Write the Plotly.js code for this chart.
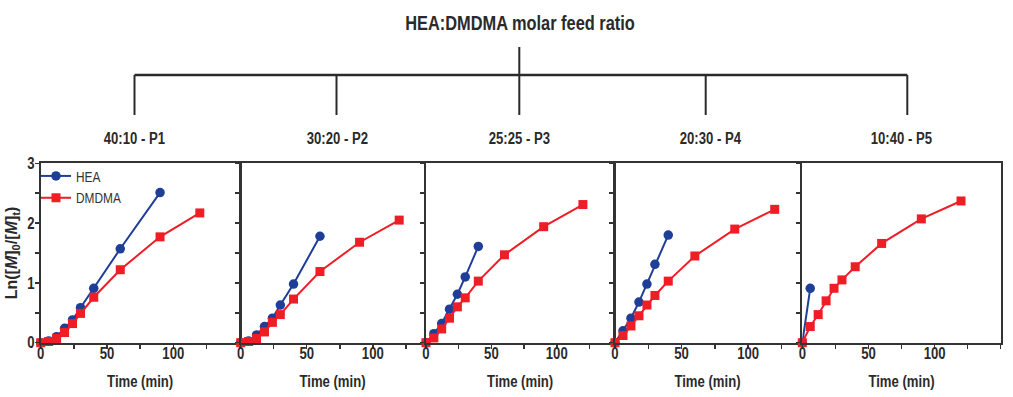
<!DOCTYPE html>
<html>
<head>
<meta charset="utf-8">
<script src="https://cdn.plot.ly/plotly-3.0.1.min.js"></script>
<style>html,body{margin:0;padding:0;background:#fff}#chart{width:1013px;height:397px}</style>
</head>
<body>
<div id="chart"></div>
<script>
// ---- data ----
const time = [0, 6, 12, 18, 24, 30, 40, 60, 90, 120];
const panelLabels = ["40:10 - P1", "30:20 - P2", "25:25 - P3", "20:30 - P4", "10:40 - P5"];
const seriesNames = ["HEA", "DMDMA"];
const heaP1 = [0, 0.03, 0.10, 0.24, 0.38, 0.585, 0.91, 1.57, 2.51];
const dmdmaP1 = [0, 0.02, 0.07, 0.17, 0.32, 0.49, 0.76, 1.22, 1.77, 2.17];
const heaP2 = [0, 0.03, 0.13, 0.27, 0.41, 0.63, 0.98, 1.78];
const dmdmaP2 = [0, 0.02, 0.07, 0.18, 0.34, 0.47, 0.73, 1.19, 1.68, 2.05];
const heaP3 = [0, 0.15, 0.32, 0.56, 0.81, 1.10, 1.61];
const dmdmaP3 = [0, 0.08, 0.23, 0.41, 0.60, 0.75, 1.03, 1.47, 1.94, 2.31];
const heaP4 = [0, 0.20, 0.41, 0.68, 0.98, 1.31, 1.80];
const dmdmaP4 = [0, 0.12, 0.28, 0.45, 0.63, 0.79, 1.03, 1.45, 1.90, 2.23];
const heaP5 = [0, 0.91];
const dmdmaP5 = [0, 0.27, 0.47, 0.70, 0.91, 1.05, 1.27, 1.66, 2.07, 2.37];
const heaData = [heaP1, heaP2, heaP3, heaP4, heaP5];
const dmdmaData = [dmdmaP1, dmdmaP2, dmdmaP3, dmdmaP4, dmdmaP5];
const xTicks = [0, 50, 100];
const xTicksLast = [0, 50, 100, 150];
const yTicks = [0, 1, 2, 3];

// ---- layout geometry (pixels) ----
const W = 1013, H = 397;
const FONT = "Liberation Sans, Arial, sans-serif";
const CONDENSE = 0.82;   // emulate a narrow (condensed) face
const BLUE = "#1f3e97", RED = "#ee1d26", INK = "#2a2a2a";
const panels = [
  {x0: 40.7, x1: 239.6, xmax: 150},
  {x0: 240.7, x1: 424.3, xmax: 139},
  {x0: 426, x1: 614.3, xmax: 144},
  {x0: 615, x1: 800, xmax: 139},
  {x0: 802.3, x1: 1000.7, xmax: 150}
];
const plotTop = 163.3, plotBot = 342.7;
const px = v => v / W, py = v => 1 - v / H;
const tickStyle = {ticks: "outside", ticklen: 4, tickwidth: 1.5, tickcolor: "#333", showgrid: false};

const traces = [];
const layout = {
  width: W, height: H,
  margin: {l: 0, r: 0, t: 0, b: 0},
  paper_bgcolor: "#fff", plot_bgcolor: "#fff",
  font: {family: FONT, color: INK},
  showlegend: true,
  legend: {x: px(36), y: py(160), xanchor: "left", yanchor: "top",
           bgcolor: "rgba(0,0,0,0)", font: {family: FONT, size: 14.5, color: "#333"},
           itemwidth: 30, tracegroupgap: 0},
  title: {text: "<b>HEA:DMDMA molar feed ratio</b>", x: px(520), xref: "paper", xanchor: "center",
          y: py(23), yref: "container", yanchor: "middle",
          font: {family: FONT, size: 20, color: INK}},
  shapes: [], annotations: []
};

panels.forEach((p, i) => {
  const n = i === 0 ? "" : String(i + 1);
  const xa = "x" + n, ya = "y" + n;
  traces.push({
    x: time.slice(0, heaData[i].length), y: heaData[i], xaxis: xa, yaxis: ya, name: seriesNames[0],
    type: "scatter", mode: "lines+markers", cliponaxis: false,
    showlegend: i === 0, legendgroup: "hea",
    line: {color: BLUE, width: 2}, marker: {symbol: "circle", size: 9.5, color: BLUE}
  });
  traces.push({
    x: time.slice(0, dmdmaData[i].length), y: dmdmaData[i], xaxis: xa, yaxis: ya, name: seriesNames[1],
    type: "scatter", mode: "lines+markers", cliponaxis: false,
    showlegend: i === 0, legendgroup: "dmdma",
    line: {color: RED, width: 2}, marker: {symbol: "square", size: 9, color: RED}
  });
  layout["xaxis" + n] = {
    domain: [px(p.x0), px(p.x1)], range: [0, p.xmax], anchor: ya,
    showline: true, linecolor: "#333", linewidth: 2, mirror: true,
    ...tickStyle,
    tickmode: "array", tickvals: i === 4 ? xTicksLast : xTicks,
    minor: {tickmode: "linear", tick0: 0, dtick: 25, ...tickStyle},
    ticklabelstandoff: -9,
    tickfont: {family: FONT, size: 16, weight: "bold", color: INK},
    zeroline: false, automargin: false, fixedrange: true,
    title: {text: "<b>Time (min)</b>", standoff: 15, font: {family: FONT, size: 16, color: INK}}
  };
  const ya_ = {
    domain: [py(plotBot), py(plotTop)], range: [0, 3], anchor: xa,
    showline: true, linecolor: "#333", linewidth: 2, mirror: true,
    ...tickStyle,
    tickmode: "array", tickvals: yTicks, showticklabels: i === 0,
    minor: {tickmode: "linear", tick0: 0, dtick: 0.5, ...tickStyle},
    ticklabelstandoff: -3,
    tickfont: {family: FONT, size: 16, weight: "bold", color: INK},
    zeroline: false, automargin: false, fixedrange: true
  };
  if (i === 0) {
    ya_.title = {text: "<b>Ln([<i>M</i>]<sub>0</sub>/[<i>M</i>]<sub>t</sub>)</b>", standoff: 4,
                 font: {family: FONT, size: 16, color: INK}};
  }
  layout["yaxis" + n] = ya_;
});

// ---- bracket tree above the panels ----
const drops = [134.5, 336.5, 519.3, 705.7, 907.3];
const labelX = [134, 337, 519, 710, 901];
const barY = 75, dropBot = 115;
layout.shapes.push({type: "line", xref: "paper", yref: "paper", x0: px(drops[0]), x1: px(drops[4]),
  y0: py(barY), y1: py(barY), line: {color: INK, width: 2.5}});
layout.shapes.push({type: "line", xref: "paper", yref: "paper", x0: px(drops[2]), x1: px(drops[2]),
  y0: py(47), y1: py(barY), line: {color: INK, width: 2}});
drops.forEach(d => layout.shapes.push({type: "line", xref: "paper", yref: "paper",
  x0: px(d), x1: px(d), y0: py(barY), y1: py(dropBot), line: {color: INK, width: 2}}));
panelLabels.forEach((t, i) => layout.annotations.push({
  text: "<b>" + t + "</b>", xref: "paper", yref: "paper", x: px(labelX[i]), y: py(138),
  xanchor: "center", yanchor: "middle", showarrow: false,
  font: {family: FONT, size: 16, color: INK}
}));

// condense texts horizontally about their anchor (emulating a narrow face), keeping them real text;
// drop empty placeholder text nodes that Plotly leaves for untitled axes
function condenseTexts() {
  document.querySelectorAll("#chart svg text").forEach(t => {
    if (!t.textContent.trim()) { t.remove(); return; }
    if (t.classList.contains("ytitle")) return;
    let bb;
    try { bb = t.getBBox(); } catch (e) { return; }
    if (!bb || bb.width === 0) return;
    const anchor = t.getAttribute("text-anchor") || getComputedStyle(t).textAnchor || "start";
    const cx = anchor === "middle" ? bb.x + bb.width / 2 : anchor === "end" ? bb.x + bb.width : bb.x;
    const prev = t.getAttribute("transform") || "";
    t.setAttribute("transform", prev + " translate(" + cx + ",0) scale(" + CONDENSE + ",1) translate(" + (-cx) + ",0)");
  });
}

Plotly.newPlot("chart", traces, layout, {staticPlot: true, displayModeBar: false}).then(condenseTexts);
</script>
</body>
</html>
